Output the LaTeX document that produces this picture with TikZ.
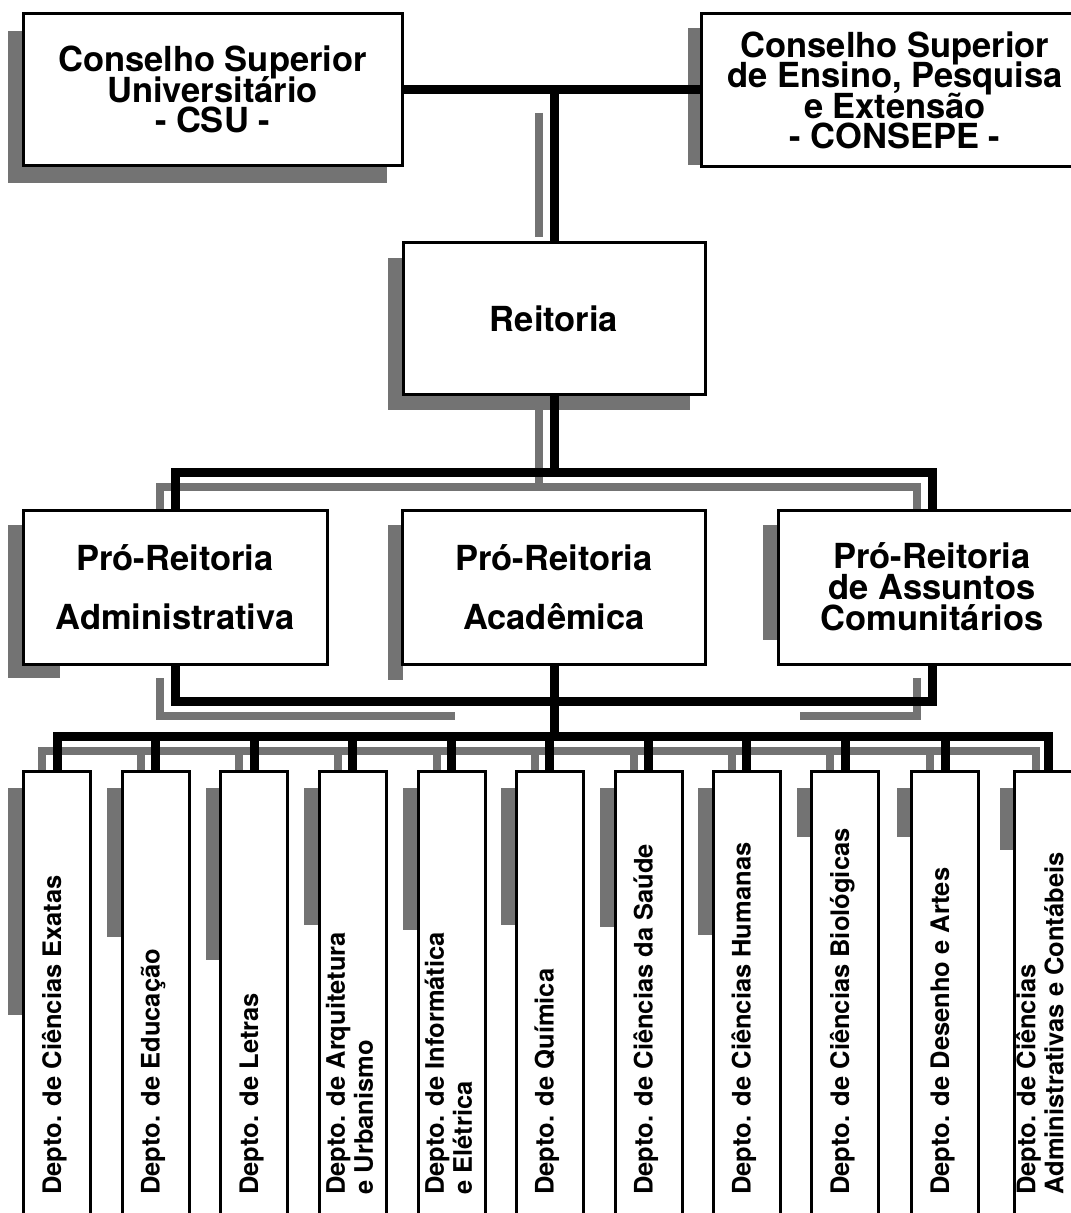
\documentclass[tikz,border=0pt]{standalone}
\usepackage{fontspec}
\setmainfont{TeX Gyre Heros}
\usetikzlibrary{calc}
\pgfdeclarelayer{shadowlayer}
\pgfdeclarelayer{linelayer}
\pgfsetlayers{shadowlayer,linelayer,main}
\tikzset{
  conn/.style={draw=black, line width=4.5pt, line join=miter},
  connshadow/.style={draw=black!55, line width=4pt, line join=miter},
  halftone/.style={fill=black!55, draw=none},
  orgbox/.style={draw=black, fill=white, line width=1.5pt, inner sep=0pt, align=center},
  bigtext/.style={font={\bfseries\fontsize{17.25}{#1}\selectfont\lineskiplimit-100pt\lineskip0pt}},
  deptbox/.style={draw=black, fill=white, line width=1.5pt, inner sep=0pt,
                  minimum width=33.5pt, minimum height=234.5pt},
  deptlabel/.style={rotate=90, inner sep=0pt, align=left,
                    font={\bfseries\fontsize{12.75}{14}\selectfont\lineskiplimit-100pt\lineskip0pt}},
}
\begin{document}
\begin{tikzpicture}[x=0.5pt, y=-0.5pt]
\path[use as bounding box] (0,0) rectangle (1070,1213);

% ---------- boxes ----------
\node[orgbox, bigtext=15.25, minimum width=189.5pt, minimum height=76pt] (csu) at (212.5,89.5)
  {Conselho Superior\\Universitário\\- CSU -};
\node[orgbox, bigtext=15.25, minimum width=194pt, minimum height=76.5pt] (consepe) at (895,90.5)
  {Conselho Superior\\de Ensino, Pesquisa\\e Extensão\\- CONSEPE -};
\node[orgbox, bigtext=20, minimum width=151pt, minimum height=76pt] (reit) at (554,319)
  {Reitoria};
\node[orgbox, bigtext=29.5, minimum width=152pt, minimum height=77pt] (padm) at (175,587)
  {Pró-Reitoria\\Administrativa};
\node[orgbox, bigtext=29.5, minimum width=151.5pt, minimum height=77pt] (pacad) at (554,587)
  {Pró-Reitoria\\Acadêmica};
\node[orgbox, bigtext=15.5, minimum width=154pt, minimum height=77pt] (pcom) at (932,587)
  {Pró-Reitoria\\de Assuntos\\Comunitários};

\foreach \i/\cx in {1/57, 2/155.5, 3/254, 4/352.5, 5/451.5, 6/549.5, 7/648.5, 8/746.5, 9/845, 10/945, 11/1048}
  \node[deptbox] (d\i) at (\cx,1005.5) {};

% ---------- department labels ----------
\node[deptlabel, anchor=base west] (l1) at (61,1195) {Depto. de Ciências Exatas};
\node[deptlabel, anchor=base west] (l2) at (159.5,1195) {Depto. de Educação};
\node[deptlabel, anchor=base west] (l3) at (258,1195) {Depto. de Letras};
\node[deptlabel, anchor=west] (l4) at (349.5,1195) {Depto. de Arquitetura\\e Urbanismo};
\node[deptlabel, anchor=west] (l5) at (448.5,1195) {Depto. de Informática\\e Elétrica};
\node[deptlabel, anchor=base west] (l6) at (553.5,1195) {Depto. de Química};
\node[deptlabel, anchor=base west] (l7) at (652.5,1195) {Depto. de Ciências da Saúde};
\node[deptlabel, anchor=base west] (l8) at (750.5,1195) {Depto. de Ciências Humanas};
\node[deptlabel, anchor=base west] (l9) at (849,1195) {Depto. de Ciências Biológicas};
\node[deptlabel, anchor=base west] (l10) at (949,1195) {Depto. de Desenho e Artes};
\node[deptlabel, anchor=west] (l11) at (1040,1195) {Depto. de Ciências\\Administrativas e Contábeis};

% ---------- junction coordinates ----------
\coordinate (bt) at (554,472);
\coordinate (bb) at (554,701);
\coordinate (bus) at (554,736);

% ---------- connectors ----------
\begin{pgfonlayer}{linelayer}
  \draw[conn] (csu.east) -- (csu.east -| consepe.west);
  \draw[conn] (reit.north |- csu.east) -- (reit.north);
  \draw[conn] (reit.south) -- (bt);
  \draw[conn] (padm.north) -- (padm.north |- bt) -- (pcom.north |- bt) -- (pcom.north);
  \draw[conn] (padm.south) -- (padm.south |- bb) -- (pcom.south |- bb) -- (pcom.south);
  \draw[conn] (pacad.south) -- (pacad.south |- bus);
  \draw[conn] (d1.north) -- (d1.north |- bus) -- (d11.north |- bus) -- (d11.north);
  \foreach \i in {2,...,10}
    \draw[conn] (d\i.north |- bus) -- (d\i.north);
\end{pgfonlayer}

% ---------- halftone shadows ----------
\begin{pgfonlayer}{shadowlayer}
  \fill[white] (0,0) rectangle (1070,1213);
  % box shadows
  \fill[halftone] (8,31) rectangle (387,183);
  \fill[halftone] (688,28) rectangle (703,165);
  \fill[halftone] (388,258) rectangle (690,410);
  \fill[halftone] (8,525) rectangle (23,678);
  \fill[halftone] (8,664) rectangle (60,678);
  \fill[halftone] (387.5,525) rectangle (402.5,680);
  \fill[halftone] (763,525) rectangle (778,640);
  \foreach \l/\e in {23/1015, 122/937, 220.5/960, 319/925, 418/930, 516/925, 615/927, 713/935, 811.5/837, 911.5/837, 1014.5/850}
    \fill[halftone] (\l-15,788) rectangle (\l,\e);
  % connector shadows
  \draw[connshadow] (539,113) -- (539,237);
  \draw[connshadow] (539,410) -- (539,487);
  \draw[connshadow] (160,510) -- (160,487) -- (917,487) -- (917,510);
  \draw[connshadow] (160,678) -- (160,716) -- (455,716);
  \draw[connshadow] (800,716) -- (917,716) -- (917,678);
  \draw[connshadow] (42,771) -- (42,751) -- (1036,751) -- (1036,771);
  \foreach \cx in {155.5, 254, 352.5, 451.5, 549.5, 648.5, 746.5, 845, 945}
    \draw[connshadow] (\cx-15,751) -- (\cx-15,771);
\end{pgfonlayer}
\end{tikzpicture}
\end{document}
